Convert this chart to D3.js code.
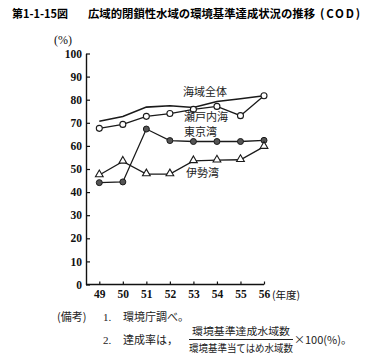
<!DOCTYPE html>
<html><head><meta charset="utf-8">
<script src="https://cdn.jsdelivr.net/npm/d3@7"></script>
<style>body{margin:0;background:#fff}svg{display:block}</style>
</head><body>
<script>
const years = [49, 50, 51, 52, 53, 54, 55, 56];
const yTicks = [0, 10, 20, 30, 40, 50, 60, 70, 80, 90, 100];
const kaiikiZentai = [70.7, 72.7, 76.8, 77.4, 76.6, 79.2, 80.4, 81.7];
const setonaikai = [67.6, 69.3, 72.8, 74.0, 75.8, 77.1, 73.1, 81.7];
const tokyowan = [44.1, 44.4, 67.3, 62.3, 61.9, 61.9, 61.9, 62.4];
const isewan = [47.4, 53.3, 47.8, 47.8, 53.5, 53.8, 54.0, 59.7];
const seriesNames = ["海域全体", "瀬戸内海", "東京湾", "伊勢湾"];

const W = 378, H = 358;
const svg = d3.select("body").append("svg").attr("width", W).attr("height", H);
const jp = "'Noto Sans CJK JP', 'Noto Sans', sans-serif";
const num = "'Liberation Serif', 'DejaVu Serif', serif";

const x = d3.scaleLinear().domain([49, 56]).range([99.3, 264]);
const y = d3.scaleLinear().domain([0, 100]).range([284.5, 53.5]);
const axisLeftX = 86;

// Title
svg.append("text").attr("x", 12).attr("y", 18).attr("font-family", jp).attr("font-weight", "bold")
  .attr("font-size", 11.5).attr("textLength", 56).attr("lengthAdjust", "spacingAndGlyphs").text("第1-1-15図");
svg.append("text").attr("x", 88).attr("y", 18).attr("font-family", jp).attr("font-weight", "bold")
  .attr("font-size", 11.5).attr("textLength", 227).attr("lengthAdjust", "spacingAndGlyphs").text("広域的閉鎖性水域の環境基準達成状況の推移");
svg.append("text").attr("x", 320).attr("y", 18).attr("font-family", jp).attr("font-weight", "bold")
  .attr("font-size", 11.5).attr("textLength", 40).attr("lengthAdjust", "spacing").text("(COD)");

// Y axis
const gy = svg.append("g").attr("transform", `translate(${axisLeftX},0)`)
  .call(d3.axisLeft(y).tickValues(yTicks).tickSizeInner(-4).tickSizeOuter(0).tickPadding(4).tickFormat(d3.format("d")));
gy.select(".domain").attr("stroke", "#111").attr("stroke-width", 1.4);
gy.selectAll(".tick line").attr("stroke", "#111").attr("stroke-width", 1.2);
gy.selectAll(".tick text").attr("font-family", num).attr("font-weight", "bold").attr("font-size", 11.5).attr("fill", "#111");

svg.append("text").attr("x", 54).attr("y", 44).attr("font-family", num).attr("font-size", 12).attr("fill", "#111").text("(%)");

// X axis
const gx = svg.append("g").attr("transform", `translate(0,${y(0)})`)
  .call(d3.axisBottom(x).tickValues(years).tickSizeInner(-3).tickSizeOuter(0).tickPadding(5).tickFormat(d3.format("d")));
gx.select(".domain").remove();
gx.selectAll(".tick line").attr("stroke", "#111").attr("stroke-width", 1.2);
gx.selectAll(".tick text").attr("font-family", num).attr("font-weight", "bold").attr("font-size", 11.5).attr("fill", "#111");
svg.append("line").attr("x1", axisLeftX).attr("x2", x(56)).attr("y1", y(0)).attr("y2", y(0))
  .attr("stroke", "#111").attr("stroke-width", 1.4);
svg.append("text").attr("x", x(56) + 8).attr("y", y(0) + 14).attr("font-family", jp).attr("font-size", 10.5).attr("fill", "#111").text("(年度)");

// Lines
const line = d3.line().x((d, i) => x(years[i])).y(d => y(d));
const allSeries = [kaiikiZentai, setonaikai, tokyowan, isewan];
allSeries.forEach((s, k) => {
  svg.append("path").attr("d", line(s)).attr("fill", "none").attr("stroke", "#1a1a1a")
    .attr("stroke-width", k === 0 ? 1.6 : 1.3);
});

// Markers
svg.append("g").selectAll("circle").data(setonaikai).join("circle")
  .attr("cx", (d, i) => x(years[i])).attr("cy", d => y(d)).attr("r", 3)
  .attr("fill", "#fff").attr("stroke", "#1a1a1a").attr("stroke-width", 1.1);
svg.append("g").selectAll("circle").data(tokyowan).join("circle")
  .attr("cx", (d, i) => x(years[i])).attr("cy", d => y(d)).attr("r", 3)
  .attr("fill", "#555").attr("stroke", "#1a1a1a").attr("stroke-width", 1);
const tri = d3.symbol().type(d3.symbolTriangle).size(26);
svg.append("g").selectAll("path").data(isewan).join("path")
  .attr("d", tri).attr("transform", (d, i) => `translate(${x(years[i])},${y(d) - 0.5})`)
  .attr("fill", "#fff").attr("stroke", "#1a1a1a").attr("stroke-width", 1.1);

// Series labels
const labelPos = [[183, 96], [184, 121], [184, 136], [186, 177]];
seriesNames.forEach((n, k) => {
  svg.append("text").attr("x", labelPos[k][0]).attr("y", labelPos[k][1]).attr("font-family", jp)
    .attr("font-size", 11).attr("fill", "#222").text(n);
});

// Notes
const noteFs = 11;
svg.append("text").attr("x", 57).attr("y", 321).attr("font-family", jp).attr("font-size", noteFs).attr("fill", "#222").text("(備考)");
svg.append("text").attr("x", 103).attr("y", 321).attr("font-family", num).attr("font-size", noteFs).attr("fill", "#222").text("1.");
svg.append("text").attr("x", 123).attr("y", 321).attr("font-family", jp).attr("font-size", noteFs).attr("fill", "#222").text("環境庁調べ。");
svg.append("text").attr("x", 103).attr("y", 344).attr("font-family", num).attr("font-size", noteFs).attr("fill", "#222").text("2.");
svg.append("text").attr("x", 123).attr("y", 344).attr("font-family", jp).attr("font-size", noteFs).attr("fill", "#222").text("達成率は，");
svg.append("text").attr("x", 241).attr("y", 335).attr("text-anchor", "middle").attr("font-family", jp).attr("font-size", 10.5)
  .attr("fill", "#222").attr("textLength", 98).attr("lengthAdjust", "spacingAndGlyphs").text("環境基準達成水域数");
svg.append("line").attr("x1", 189).attr("x2", 293).attr("y1", 339.5).attr("y2", 339.5).attr("stroke", "#222").attr("stroke-width", 1);
svg.append("text").attr("x", 241).attr("y", 352).attr("text-anchor", "middle").attr("font-family", jp).attr("font-size", 10.5)
  .attr("fill", "#222").attr("textLength", 104).attr("lengthAdjust", "spacingAndGlyphs").text("環境基準当てはめ水域数");
svg.append("text").attr("x", 294).attr("y", 344).attr("font-family", jp).attr("font-size", 11).attr("fill", "#222").text("×100(%)。");
</script>
</body></html>
